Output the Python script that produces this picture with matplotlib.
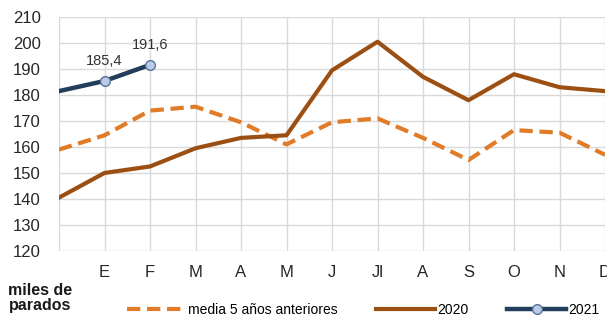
import matplotlib
matplotlib.use('Agg')
import matplotlib.pyplot as plt

# Monthly unemployment (miles de parados); position 0 is previous December
months = ["", "E", "F", "M", "A", "M", "J", "Jl", "A", "S", "O", "N", "D"]
media_5 = [159, 164.5, 174, 175.5, 169.5, 161, 169.5, 171, 163.5, 155, 166.5, 165.5, 157]
y2020 = [140.5, 150, 152.5, 159.5, 163.5, 164.5, 189.5, 200.5, 187, 178, 188, 183, 181.5]
y2021 = [181.5, 185.4, 191.6]
labels_2021 = ["", "185,4", "191,6"]

plt.rcParams['font.family'] = ['Liberation Sans', 'DejaVu Sans']

fig = plt.figure(figsize=(6.07, 3.16), dpi=100)
ax = fig.add_axes([59 / 607, 0.206, 546 / 607, 0.74])

x = list(range(len(months)))
ax.plot(x, media_5, color='#E07B28', lw=3, dashes=(3.2, 1.6),
        label='media 5 años anteriores', solid_capstyle='butt')
ax.plot(x, y2020, color='#9C4F12', lw=3, label='2020')
ax.plot(x[:len(y2021)], y2021, color='#233D5C', lw=3.2, marker='o', ms=7,
        markevery=[1, 2], mfc='#B9CBE6', mec='#5A7398', mew=1, label='2021')

for xi, yi, lab in zip(x, y2021, labels_2021):
    if lab:
        ax.annotate(lab, (xi, yi), xytext=(0, 9), textcoords='offset points',
                    ha='center', va='bottom', fontsize=10.5, color='#333333')

ax.set_xlim(0, 12)
ax.set_ylim(120, 210)
ax.set_yticks(range(120, 211, 10))
ax.set_xticks(x)
ax.set_xticklabels(months)
ax.grid(True, color='#D9D9D9', lw=1)
ax.set_axisbelow(True)
for s in ax.spines.values():
    s.set_visible(False)
ax.tick_params(length=0, labelsize=12, colors='#262626')
ax.tick_params(axis='x', pad=10)
ax.tick_params(axis='y', pad=13)

fig.text(0.014, 0.057, "miles de\nparados", fontsize=11.5, fontweight='bold',
         va='center', ha='left', color='#1a1a1a', linespacing=1.0)

leg = fig.legend(loc='center left', bbox_to_anchor=(0.188, 0.02), ncol=3, frameon=False,
                 fontsize=10, handlelength=4.2, columnspacing=2.8, handletextpad=0.2)
leg.legend_handles[2].set_markevery([1])

fig.savefig("out.png", dpi=100)
